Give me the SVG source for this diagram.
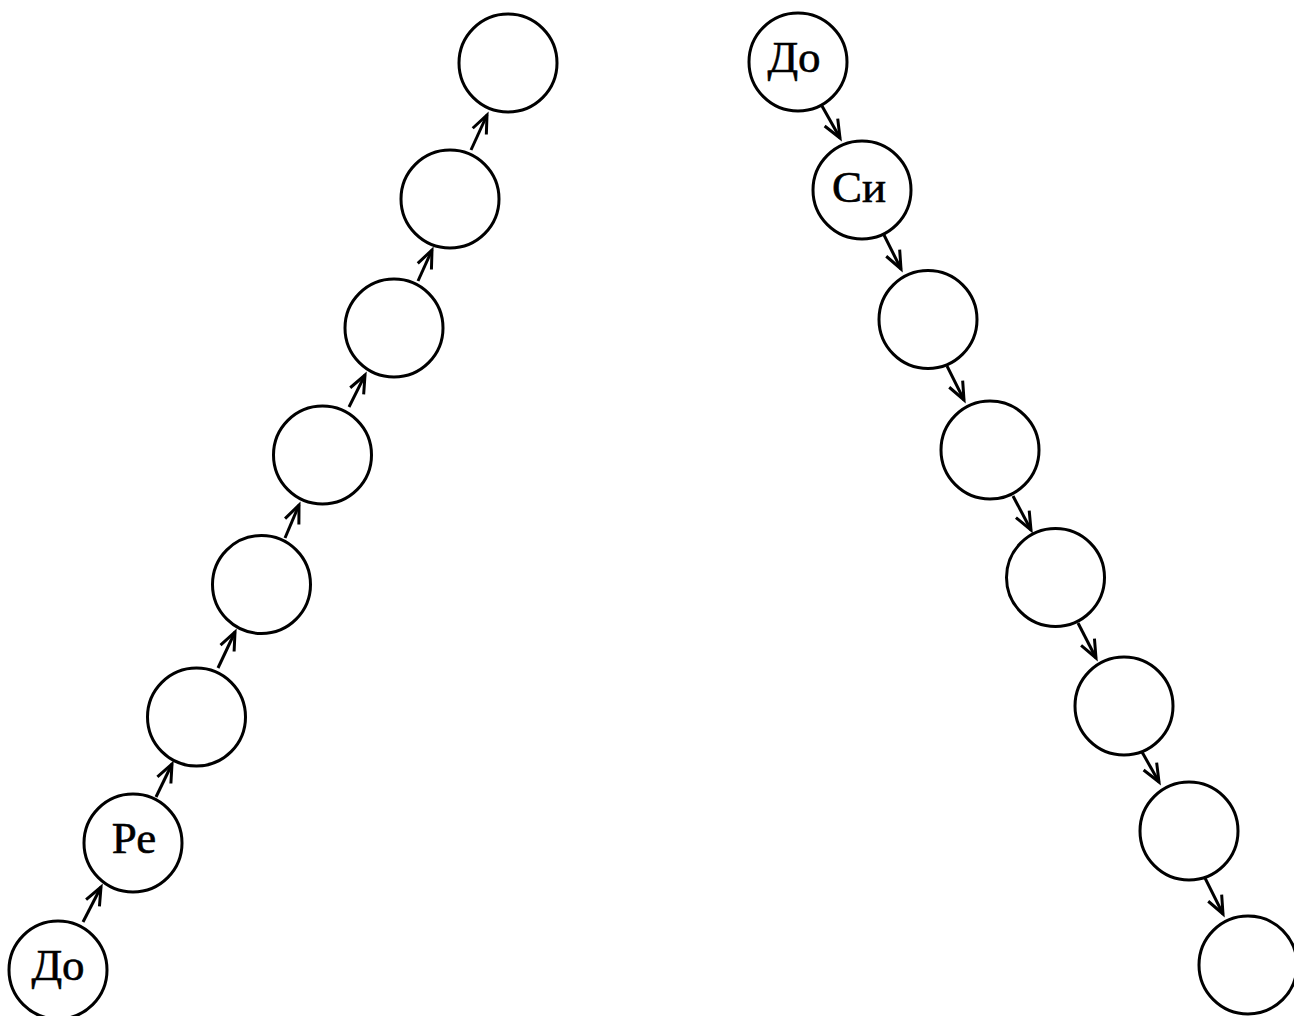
<svg xmlns="http://www.w3.org/2000/svg" width="1294" height="1016" viewBox="0 0 1294 1016">
<style>
.node{fill:#fff;stroke:#000;stroke-width:3}
.lbl{font-family:"Liberation Serif","DejaVu Serif",serif;font-size:45px;fill:#000;stroke:#000;stroke-width:0.6;text-anchor:middle}
.edge{stroke:#000;stroke-width:3;fill:none;marker-end:url(#arr)}
</style>
<defs>
<marker id="arr" markerUnits="userSpaceOnUse" orient="auto" refX="0" refY="0" markerWidth="30" markerHeight="30" overflow="visible">
<path d="M-18,-7.5 L0,0 L-18,7.5" fill="none" stroke="#000" stroke-width="3" stroke-linejoin="miter"/>
</marker>
</defs>
<rect width="1294" height="1016" fill="#fff"/>
<g id="connectors">
<line class="edge" x1="83" y1="922" x2="101" y2="887"/>
<line class="edge" x1="156" y1="797" x2="172" y2="764"/>
<line class="edge" x1="218" y1="668" x2="235" y2="632"/>
<line class="edge" x1="285" y1="538" x2="299" y2="505"/>
<line class="edge" x1="349" y1="407" x2="365" y2="375"/>
<line class="edge" x1="418" y1="281" x2="432" y2="250"/>
<line class="edge" x1="471" y1="150" x2="487" y2="115"/>
<line class="edge" x1="822" y1="106" x2="840" y2="138"/>
<line class="edge" x1="884" y1="235" x2="901" y2="269"/>
<line class="edge" x1="947" y1="366" x2="964" y2="400"/>
<line class="edge" x1="1013" y1="496" x2="1031" y2="530"/>
<line class="edge" x1="1078" y1="623" x2="1096" y2="658"/>
<line class="edge" x1="1142" y1="752" x2="1159" y2="782"/>
<line class="edge" x1="1205" y1="878" x2="1223" y2="914"/>
</g>
<g id="L1"><circle class="node" cx="58" cy="970" r="49"/><text class="lbl" x="58" y="980">До</text></g>
<g id="L2"><circle class="node" cx="133" cy="843" r="49"/><text class="lbl" x="134" y="853">Ре</text></g>
<g id="L3"><circle class="node" cx="196.5" cy="717" r="49"/></g>
<g id="L4"><circle class="node" cx="261.5" cy="584.5" r="49"/></g>
<g id="L5"><circle class="node" cx="322.5" cy="455" r="49"/></g>
<g id="L6"><circle class="node" cx="394" cy="328" r="49"/></g>
<g id="L7"><circle class="node" cx="450" cy="199" r="49"/></g>
<g id="L8"><circle class="node" cx="508" cy="63" r="49"/></g>
<g id="R1"><circle class="node" cx="798" cy="62" r="49"/><text class="lbl" x="794" y="72">До</text></g>
<g id="R2"><circle class="node" cx="862" cy="190" r="49"/><text class="lbl" x="859" y="202">Си</text></g>
<g id="R3"><circle class="node" cx="928" cy="319.5" r="49"/></g>
<g id="R4"><circle class="node" cx="990" cy="450" r="49"/></g>
<g id="R5"><circle class="node" cx="1055.5" cy="577.5" r="49"/></g>
<g id="R6"><circle class="node" cx="1124" cy="706" r="49"/></g>
<g id="R7"><circle class="node" cx="1189" cy="831" r="49"/></g>
<g id="R8"><circle class="node" cx="1248" cy="965" r="49"/></g>
</svg>
